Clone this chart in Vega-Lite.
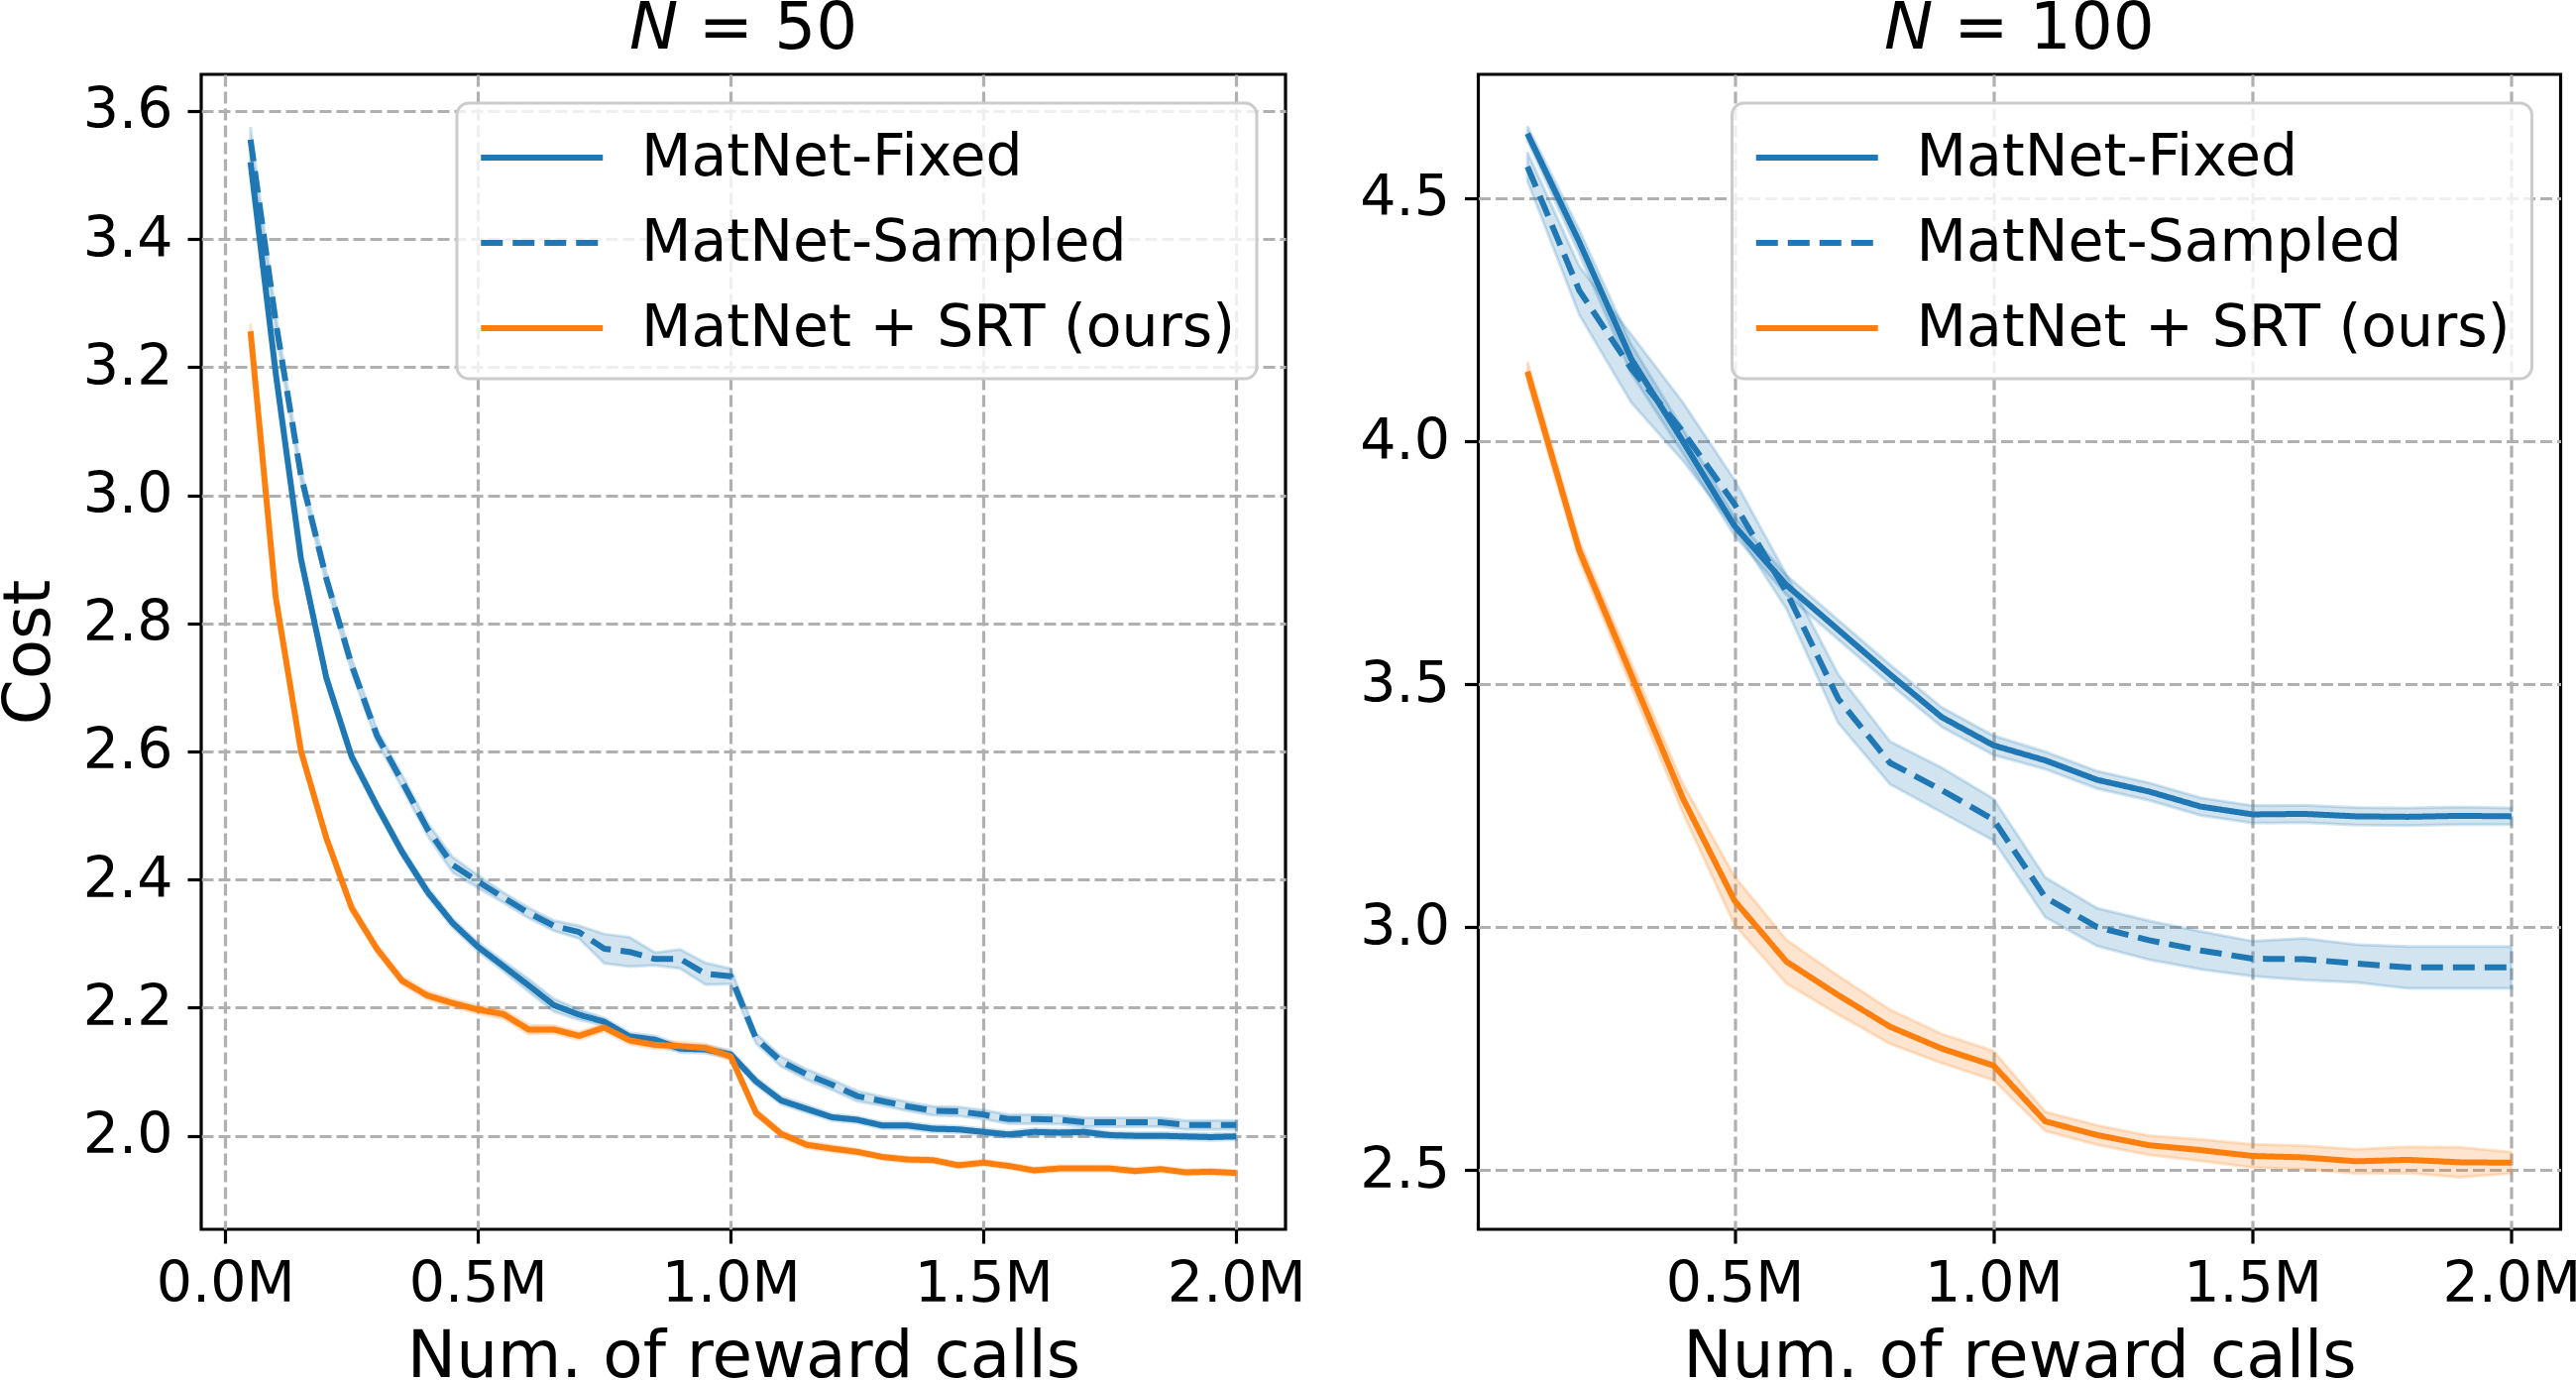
{
  "$schema": "https://vega.github.io/schema/vega-lite/v6.json",
  "background": "white",
  "padding": {"left": -6, "top": -6, "right": 0, "bottom": 0},
  "spacing": 194.5,
  "bounds": "flush",
  "config": {
    "font": "DejaVu Sans",
    "view": {"stroke": "black", "strokeWidth": 3.2},
    "axis": {
      "domain": false,
      "grid": true,
      "gridColor": "#b0b0b0",
      "gridDash": [12, 5],
      "gridWidth": 3.2,
      "gridOpacity": 1,
      "tickColor": "black",
      "tickSize": 14,
      "tickWidth": 3.2,
      "labelFont": "DejaVu Sans",
      "labelFontSize": 57,
      "labelColor": "black",
      "titleFont": "DejaVu Sans",
      "titleFontSize": 66,
      "titleFontWeight": "normal",
      "titleColor": "black",
      "labelOverlap": false,
      "labelFlush": false
    },
    "axisX": {"labelPadding": 13, "titlePadding": 13},
    "axisY": {"labelPadding": 15, "titlePadding": 20},
    "legend": {
      "orient": "top-right",
      "offset": 29,
      "symbolStrokeWidth": 6,
      "labelFont": "DejaVu Sans",
      "labelFontSize": 58.5,
      "labelColor": "black",
      "labelLimit": 2000,
      "rowPadding": 22,
      "padding": 21,
      "strokeColor": "#cccccc",
      "strokeWidth": 3,
      "cornerRadius": 12,
      "fillColor": "rgba(255,255,255,0.8)"
    },
    "title": {"font": "DejaVu Sans", "fontSize": 66, "fontWeight": "normal", "color": "black", "offset": 12, "baseline": "alphabetic"}
  },
  "datasets": {
    "n50": [
      {"x":0.05,"s":"MatNet-Fixed","y":3.52,"lo":3.508,"hi":3.532},
      {"x":0.10,"s":"MatNet-Fixed","y":3.19,"lo":3.18,"hi":3.20},
      {"x":0.15,"s":"MatNet-Fixed","y":2.90,"lo":2.892,"hi":2.908},
      {"x":0.20,"s":"MatNet-Fixed","y":2.715,"lo":2.707,"hi":2.723},
      {"x":0.25,"s":"MatNet-Fixed","y":2.592,"lo":2.584,"hi":2.600},
      {"x":0.30,"s":"MatNet-Fixed","y":2.515,"lo":2.508,"hi":2.522},
      {"x":0.35,"s":"MatNet-Fixed","y":2.443,"lo":2.436,"hi":2.450},
      {"x":0.40,"s":"MatNet-Fixed","y":2.381,"lo":2.374,"hi":2.388},
      {"x":0.45,"s":"MatNet-Fixed","y":2.332,"lo":2.325,"hi":2.339},
      {"x":0.50,"s":"MatNet-Fixed","y":2.295,"lo":2.288,"hi":2.302},
      {"x":0.55,"s":"MatNet-Fixed","y":2.265,"lo":2.257,"hi":2.273},
      {"x":0.60,"s":"MatNet-Fixed","y":2.235,"lo":2.225,"hi":2.245},
      {"x":0.65,"s":"MatNet-Fixed","y":2.204,"lo":2.194,"hi":2.214},
      {"x":0.70,"s":"MatNet-Fixed","y":2.189,"lo":2.181,"hi":2.197},
      {"x":0.75,"s":"MatNet-Fixed","y":2.178,"lo":2.172,"hi":2.184},
      {"x":0.80,"s":"MatNet-Fixed","y":2.155,"lo":2.149,"hi":2.161},
      {"x":0.85,"s":"MatNet-Fixed","y":2.150,"lo":2.144,"hi":2.156},
      {"x":0.90,"s":"MatNet-Fixed","y":2.136,"lo":2.130,"hi":2.142},
      {"x":0.95,"s":"MatNet-Fixed","y":2.135,"lo":2.129,"hi":2.141},
      {"x":1.00,"s":"MatNet-Fixed","y":2.127,"lo":2.121,"hi":2.133},
      {"x":1.05,"s":"MatNet-Fixed","y":2.085,"lo":2.079,"hi":2.091},
      {"x":1.10,"s":"MatNet-Fixed","y":2.055,"lo":2.049,"hi":2.061},
      {"x":1.15,"s":"MatNet-Fixed","y":2.042,"lo":2.036,"hi":2.048},
      {"x":1.20,"s":"MatNet-Fixed","y":2.029,"lo":2.024,"hi":2.034},
      {"x":1.25,"s":"MatNet-Fixed","y":2.025,"lo":2.020,"hi":2.030},
      {"x":1.30,"s":"MatNet-Fixed","y":2.016,"lo":2.011,"hi":2.021},
      {"x":1.35,"s":"MatNet-Fixed","y":2.016,"lo":2.011,"hi":2.021},
      {"x":1.40,"s":"MatNet-Fixed","y":2.011,"lo":2.006,"hi":2.016},
      {"x":1.45,"s":"MatNet-Fixed","y":2.010,"lo":2.005,"hi":2.015},
      {"x":1.50,"s":"MatNet-Fixed","y":2.006,"lo":2.001,"hi":2.011},
      {"x":1.55,"s":"MatNet-Fixed","y":2.002,"lo":1.997,"hi":2.007},
      {"x":1.60,"s":"MatNet-Fixed","y":2.006,"lo":2.001,"hi":2.011},
      {"x":1.65,"s":"MatNet-Fixed","y":2.005,"lo":2.000,"hi":2.010},
      {"x":1.70,"s":"MatNet-Fixed","y":2.006,"lo":2.001,"hi":2.011},
      {"x":1.75,"s":"MatNet-Fixed","y":2.001,"lo":1.996,"hi":2.006},
      {"x":1.80,"s":"MatNet-Fixed","y":2.000,"lo":1.995,"hi":2.005},
      {"x":1.85,"s":"MatNet-Fixed","y":2.000,"lo":1.995,"hi":2.005},
      {"x":1.90,"s":"MatNet-Fixed","y":1.999,"lo":1.994,"hi":2.004},
      {"x":1.95,"s":"MatNet-Fixed","y":1.998,"lo":1.993,"hi":2.003},
      {"x":2.00,"s":"MatNet-Fixed","y":1.999,"lo":1.994,"hi":2.004},
      {"x":0.05,"s":"MatNet-Sampled","y":3.555,"lo":3.535,"hi":3.575},
      {"x":0.10,"s":"MatNet-Sampled","y":3.27,"lo":3.258,"hi":3.282},
      {"x":0.15,"s":"MatNet-Sampled","y":3.03,"lo":3.020,"hi":3.040},
      {"x":0.20,"s":"MatNet-Sampled","y":2.87,"lo":2.860,"hi":2.880},
      {"x":0.25,"s":"MatNet-Sampled","y":2.735,"lo":2.725,"hi":2.745},
      {"x":0.30,"s":"MatNet-Sampled","y":2.625,"lo":2.615,"hi":2.635},
      {"x":0.35,"s":"MatNet-Sampled","y":2.553,"lo":2.543,"hi":2.563},
      {"x":0.40,"s":"MatNet-Sampled","y":2.479,"lo":2.469,"hi":2.489},
      {"x":0.45,"s":"MatNet-Sampled","y":2.423,"lo":2.411,"hi":2.435},
      {"x":0.50,"s":"MatNet-Sampled","y":2.397,"lo":2.387,"hi":2.407},
      {"x":0.55,"s":"MatNet-Sampled","y":2.372,"lo":2.364,"hi":2.380},
      {"x":0.60,"s":"MatNet-Sampled","y":2.348,"lo":2.340,"hi":2.356},
      {"x":0.65,"s":"MatNet-Sampled","y":2.328,"lo":2.320,"hi":2.336},
      {"x":0.70,"s":"MatNet-Sampled","y":2.318,"lo":2.308,"hi":2.328},
      {"x":0.75,"s":"MatNet-Sampled","y":2.292,"lo":2.269,"hi":2.315},
      {"x":0.80,"s":"MatNet-Sampled","y":2.287,"lo":2.264,"hi":2.310},
      {"x":0.85,"s":"MatNet-Sampled","y":2.276,"lo":2.266,"hi":2.286},
      {"x":0.90,"s":"MatNet-Sampled","y":2.276,"lo":2.261,"hi":2.291},
      {"x":0.95,"s":"MatNet-Sampled","y":2.253,"lo":2.236,"hi":2.270},
      {"x":1.00,"s":"MatNet-Sampled","y":2.249,"lo":2.237,"hi":2.261},
      {"x":1.05,"s":"MatNet-Sampled","y":2.152,"lo":2.144,"hi":2.160},
      {"x":1.10,"s":"MatNet-Sampled","y":2.116,"lo":2.108,"hi":2.124},
      {"x":1.15,"s":"MatNet-Sampled","y":2.096,"lo":2.088,"hi":2.104},
      {"x":1.20,"s":"MatNet-Sampled","y":2.080,"lo":2.072,"hi":2.088},
      {"x":1.25,"s":"MatNet-Sampled","y":2.062,"lo":2.054,"hi":2.070},
      {"x":1.30,"s":"MatNet-Sampled","y":2.054,"lo":2.047,"hi":2.061},
      {"x":1.35,"s":"MatNet-Sampled","y":2.046,"lo":2.039,"hi":2.053},
      {"x":1.40,"s":"MatNet-Sampled","y":2.039,"lo":2.032,"hi":2.046},
      {"x":1.45,"s":"MatNet-Sampled","y":2.038,"lo":2.031,"hi":2.045},
      {"x":1.50,"s":"MatNet-Sampled","y":2.033,"lo":2.026,"hi":2.040},
      {"x":1.55,"s":"MatNet-Sampled","y":2.026,"lo":2.019,"hi":2.033},
      {"x":1.60,"s":"MatNet-Sampled","y":2.026,"lo":2.019,"hi":2.033},
      {"x":1.65,"s":"MatNet-Sampled","y":2.025,"lo":2.018,"hi":2.032},
      {"x":1.70,"s":"MatNet-Sampled","y":2.021,"lo":2.014,"hi":2.028},
      {"x":1.75,"s":"MatNet-Sampled","y":2.021,"lo":2.014,"hi":2.028},
      {"x":1.80,"s":"MatNet-Sampled","y":2.021,"lo":2.014,"hi":2.028},
      {"x":1.85,"s":"MatNet-Sampled","y":2.021,"lo":2.014,"hi":2.028},
      {"x":1.90,"s":"MatNet-Sampled","y":2.017,"lo":2.010,"hi":2.024},
      {"x":1.95,"s":"MatNet-Sampled","y":2.017,"lo":2.010,"hi":2.024},
      {"x":2.00,"s":"MatNet-Sampled","y":2.017,"lo":2.010,"hi":2.024},
      {"x":0.05,"s":"MatNet + SRT (ours)","y":3.256,"lo":3.244,"hi":3.268},
      {"x":0.10,"s":"MatNet + SRT (ours)","y":2.84,"lo":2.832,"hi":2.848},
      {"x":0.15,"s":"MatNet + SRT (ours)","y":2.60,"lo":2.592,"hi":2.608},
      {"x":0.20,"s":"MatNet + SRT (ours)","y":2.465,"lo":2.458,"hi":2.472},
      {"x":0.25,"s":"MatNet + SRT (ours)","y":2.356,"lo":2.349,"hi":2.363},
      {"x":0.30,"s":"MatNet + SRT (ours)","y":2.292,"lo":2.286,"hi":2.298},
      {"x":0.35,"s":"MatNet + SRT (ours)","y":2.242,"lo":2.236,"hi":2.248},
      {"x":0.40,"s":"MatNet + SRT (ours)","y":2.219,"lo":2.213,"hi":2.225},
      {"x":0.45,"s":"MatNet + SRT (ours)","y":2.207,"lo":2.201,"hi":2.213},
      {"x":0.50,"s":"MatNet + SRT (ours)","y":2.197,"lo":2.191,"hi":2.203},
      {"x":0.55,"s":"MatNet + SRT (ours)","y":2.190,"lo":2.183,"hi":2.197},
      {"x":0.60,"s":"MatNet + SRT (ours)","y":2.166,"lo":2.159,"hi":2.173},
      {"x":0.65,"s":"MatNet + SRT (ours)","y":2.166,"lo":2.160,"hi":2.172},
      {"x":0.70,"s":"MatNet + SRT (ours)","y":2.156,"lo":2.150,"hi":2.162},
      {"x":0.75,"s":"MatNet + SRT (ours)","y":2.169,"lo":2.163,"hi":2.175},
      {"x":0.80,"s":"MatNet + SRT (ours)","y":2.149,"lo":2.143,"hi":2.155},
      {"x":0.85,"s":"MatNet + SRT (ours)","y":2.142,"lo":2.136,"hi":2.148},
      {"x":0.90,"s":"MatNet + SRT (ours)","y":2.140,"lo":2.134,"hi":2.146},
      {"x":0.95,"s":"MatNet + SRT (ours)","y":2.137,"lo":2.131,"hi":2.143},
      {"x":1.00,"s":"MatNet + SRT (ours)","y":2.124,"lo":2.118,"hi":2.130},
      {"x":1.05,"s":"MatNet + SRT (ours)","y":2.036,"lo":2.031,"hi":2.041},
      {"x":1.10,"s":"MatNet + SRT (ours)","y":2.003,"lo":1.998,"hi":2.008},
      {"x":1.15,"s":"MatNet + SRT (ours)","y":1.986,"lo":1.981,"hi":1.991},
      {"x":1.20,"s":"MatNet + SRT (ours)","y":1.980,"lo":1.975,"hi":1.985},
      {"x":1.25,"s":"MatNet + SRT (ours)","y":1.975,"lo":1.971,"hi":1.979},
      {"x":1.30,"s":"MatNet + SRT (ours)","y":1.967,"lo":1.963,"hi":1.971},
      {"x":1.35,"s":"MatNet + SRT (ours)","y":1.963,"lo":1.959,"hi":1.967},
      {"x":1.40,"s":"MatNet + SRT (ours)","y":1.962,"lo":1.958,"hi":1.966},
      {"x":1.45,"s":"MatNet + SRT (ours)","y":1.954,"lo":1.950,"hi":1.958},
      {"x":1.50,"s":"MatNet + SRT (ours)","y":1.958,"lo":1.954,"hi":1.962},
      {"x":1.55,"s":"MatNet + SRT (ours)","y":1.953,"lo":1.949,"hi":1.957},
      {"x":1.60,"s":"MatNet + SRT (ours)","y":1.946,"lo":1.942,"hi":1.950},
      {"x":1.65,"s":"MatNet + SRT (ours)","y":1.949,"lo":1.945,"hi":1.953},
      {"x":1.70,"s":"MatNet + SRT (ours)","y":1.949,"lo":1.945,"hi":1.953},
      {"x":1.75,"s":"MatNet + SRT (ours)","y":1.949,"lo":1.945,"hi":1.953},
      {"x":1.80,"s":"MatNet + SRT (ours)","y":1.945,"lo":1.941,"hi":1.949},
      {"x":1.85,"s":"MatNet + SRT (ours)","y":1.948,"lo":1.944,"hi":1.952},
      {"x":1.90,"s":"MatNet + SRT (ours)","y":1.943,"lo":1.939,"hi":1.947},
      {"x":1.95,"s":"MatNet + SRT (ours)","y":1.944,"lo":1.940,"hi":1.948},
      {"x":2.00,"s":"MatNet + SRT (ours)","y":1.942,"lo":1.938,"hi":1.946}
    ],
    "n100": [
      {"x":0.1,"s":"MatNet-Fixed","y":4.633,"lo":4.618,"hi":4.648},
      {"x":0.2,"s":"MatNet-Fixed","y":4.41,"lo":4.385,"hi":4.435},
      {"x":0.3,"s":"MatNet-Fixed","y":4.17,"lo":4.140,"hi":4.200},
      {"x":0.4,"s":"MatNet-Fixed","y":4.0,"lo":3.975,"hi":4.025},
      {"x":0.5,"s":"MatNet-Fixed","y":3.825,"lo":3.805,"hi":3.845},
      {"x":0.6,"s":"MatNet-Fixed","y":3.704,"lo":3.684,"hi":3.724},
      {"x":0.7,"s":"MatNet-Fixed","y":3.612,"lo":3.592,"hi":3.632},
      {"x":0.8,"s":"MatNet-Fixed","y":3.52,"lo":3.500,"hi":3.540},
      {"x":0.9,"s":"MatNet-Fixed","y":3.432,"lo":3.412,"hi":3.452},
      {"x":1.0,"s":"MatNet-Fixed","y":3.374,"lo":3.354,"hi":3.394},
      {"x":1.1,"s":"MatNet-Fixed","y":3.343,"lo":3.325,"hi":3.361},
      {"x":1.2,"s":"MatNet-Fixed","y":3.303,"lo":3.285,"hi":3.321},
      {"x":1.3,"s":"MatNet-Fixed","y":3.279,"lo":3.261,"hi":3.297},
      {"x":1.4,"s":"MatNet-Fixed","y":3.248,"lo":3.230,"hi":3.266},
      {"x":1.5,"s":"MatNet-Fixed","y":3.232,"lo":3.214,"hi":3.250},
      {"x":1.6,"s":"MatNet-Fixed","y":3.233,"lo":3.215,"hi":3.251},
      {"x":1.7,"s":"MatNet-Fixed","y":3.228,"lo":3.210,"hi":3.246},
      {"x":1.8,"s":"MatNet-Fixed","y":3.227,"lo":3.209,"hi":3.245},
      {"x":1.9,"s":"MatNet-Fixed","y":3.229,"lo":3.211,"hi":3.247},
      {"x":2.0,"s":"MatNet-Fixed","y":3.228,"lo":3.211,"hi":3.245},
      {"x":0.1,"s":"MatNet-Sampled","y":4.565,"lo":4.535,"hi":4.595},
      {"x":0.2,"s":"MatNet-Sampled","y":4.31,"lo":4.260,"hi":4.360},
      {"x":0.3,"s":"MatNet-Sampled","y":4.15,"lo":4.080,"hi":4.220},
      {"x":0.4,"s":"MatNet-Sampled","y":4.02,"lo":3.960,"hi":4.080},
      {"x":0.5,"s":"MatNet-Sampled","y":3.87,"lo":3.820,"hi":3.920},
      {"x":0.6,"s":"MatNet-Sampled","y":3.69,"lo":3.655,"hi":3.725},
      {"x":0.7,"s":"MatNet-Sampled","y":3.47,"lo":3.420,"hi":3.520},
      {"x":0.8,"s":"MatNet-Sampled","y":3.338,"lo":3.294,"hi":3.382},
      {"x":0.9,"s":"MatNet-Sampled","y":3.282,"lo":3.236,"hi":3.328},
      {"x":1.0,"s":"MatNet-Sampled","y":3.221,"lo":3.178,"hi":3.264},
      {"x":1.1,"s":"MatNet-Sampled","y":3.061,"lo":3.020,"hi":3.102},
      {"x":1.2,"s":"MatNet-Sampled","y":3.000,"lo":2.961,"hi":3.039},
      {"x":1.3,"s":"MatNet-Sampled","y":2.973,"lo":2.933,"hi":3.013},
      {"x":1.4,"s":"MatNet-Sampled","y":2.952,"lo":2.913,"hi":2.991},
      {"x":1.5,"s":"MatNet-Sampled","y":2.935,"lo":2.899,"hi":2.971},
      {"x":1.6,"s":"MatNet-Sampled","y":2.934,"lo":2.891,"hi":2.977},
      {"x":1.7,"s":"MatNet-Sampled","y":2.925,"lo":2.886,"hi":2.964},
      {"x":1.8,"s":"MatNet-Sampled","y":2.917,"lo":2.874,"hi":2.960},
      {"x":1.9,"s":"MatNet-Sampled","y":2.917,"lo":2.874,"hi":2.960},
      {"x":2.0,"s":"MatNet-Sampled","y":2.917,"lo":2.874,"hi":2.960},
      {"x":0.1,"s":"MatNet + SRT (ours)","y":4.143,"lo":4.123,"hi":4.163},
      {"x":0.2,"s":"MatNet + SRT (ours)","y":3.775,"lo":3.755,"hi":3.795},
      {"x":0.3,"s":"MatNet + SRT (ours)","y":3.52,"lo":3.495,"hi":3.545},
      {"x":0.4,"s":"MatNet + SRT (ours)","y":3.265,"lo":3.235,"hi":3.295},
      {"x":0.5,"s":"MatNet + SRT (ours)","y":3.054,"lo":3.004,"hi":3.104},
      {"x":0.6,"s":"MatNet + SRT (ours)","y":2.929,"lo":2.884,"hi":2.974},
      {"x":0.7,"s":"MatNet + SRT (ours)","y":2.86,"lo":2.820,"hi":2.900},
      {"x":0.8,"s":"MatNet + SRT (ours)","y":2.795,"lo":2.760,"hi":2.830},
      {"x":0.9,"s":"MatNet + SRT (ours)","y":2.75,"lo":2.720,"hi":2.780},
      {"x":1.0,"s":"MatNet + SRT (ours)","y":2.715,"lo":2.685,"hi":2.745},
      {"x":1.1,"s":"MatNet + SRT (ours)","y":2.60,"lo":2.580,"hi":2.620},
      {"x":1.2,"s":"MatNet + SRT (ours)","y":2.572,"lo":2.552,"hi":2.592},
      {"x":1.3,"s":"MatNet + SRT (ours)","y":2.551,"lo":2.531,"hi":2.571},
      {"x":1.4,"s":"MatNet + SRT (ours)","y":2.541,"lo":2.519,"hi":2.563},
      {"x":1.5,"s":"MatNet + SRT (ours)","y":2.529,"lo":2.505,"hi":2.553},
      {"x":1.6,"s":"MatNet + SRT (ours)","y":2.526,"lo":2.502,"hi":2.550},
      {"x":1.7,"s":"MatNet + SRT (ours)","y":2.518,"lo":2.493,"hi":2.543},
      {"x":1.8,"s":"MatNet + SRT (ours)","y":2.521,"lo":2.494,"hi":2.548},
      {"x":1.9,"s":"MatNet + SRT (ours)","y":2.516,"lo":2.485,"hi":2.547},
      {"x":2.0,"s":"MatNet + SRT (ours)","y":2.515,"lo":2.493,"hi":2.537}
    ]
  },
  "resolve": {
    "scale": {"x": "independent", "y": "independent", "color": "independent", "strokeDash": "independent", "fill": "independent", "stroke": "independent"},
    "legend": {"color": "independent", "strokeDash": "independent", "fill": "independent", "stroke": "independent"}
  },
  "hconcat": [
    {
      "width": 1094,
      "height": 1165,
      "title": {"text": "𝘕 = 50"},
      "data": {"name": "n50"},
      "encoding": {
        "x": {"field": "x", "type": "quantitative",
              "scale": {"domain": [-0.0475, 2.0975], "nice": false, "zero": false},
              "axis": {"values": [0, 0.5, 1, 1.5, 2], "labelExpr": "format(datum.value, '.1f') + 'M'", "title": "Num. of reward calls"}}
      },
      "layer": [
        {
          "mark": {"type": "area", "fillOpacity": 0.2, "strokeOpacity": 0.2, "strokeWidth": 3},
          "encoding": {
            "y": {"field": "lo", "type": "quantitative", "scale": {"domain": [1.854, 3.657], "nice": false, "zero": false},
                  "axis": {"values": [2.0, 2.2, 2.4, 2.6, 2.8, 3.0, 3.2, 3.4, 3.6], "format": ".1f", "title": "Cost"}},
            "y2": {"field": "hi"},
            "fill": {"field": "s", "type": "nominal", "scale": {"domain": ["MatNet + SRT (ours)", "MatNet-Fixed", "MatNet-Sampled"], "range": ["#ff7f0e", "#1f77b4", "#1f77b4"]}, "legend": null},
            "stroke": {"field": "s", "type": "nominal", "scale": {"domain": ["MatNet + SRT (ours)", "MatNet-Fixed", "MatNet-Sampled"], "range": ["#ff7f0e", "#1f77b4", "#1f77b4"]}, "legend": null}
          }
        },
        {
          "mark": {"type": "line", "strokeWidth": 6, "strokeJoin": "round"},
          "encoding": {
            "y": {"field": "y", "type": "quantitative", "scale": {"domain": [1.854, 3.657], "nice": false, "zero": false},
                  "axis": {"values": [2.0, 2.2, 2.4, 2.6, 2.8, 3.0, 3.2, 3.4, 3.6], "format": ".1f", "title": "Cost"}},
            "color": {"field": "s", "type": "nominal",
                      "scale": {"domain": ["MatNet-Fixed", "MatNet-Sampled", "MatNet + SRT (ours)"], "range": ["#1f77b4", "#1f77b4", "#ff7f0e"]},
                      "legend": {"title": null, "symbolType": "M-1,0H3", "symbolSize": 3782, "labelOffset": 97}},
            "strokeDash": {"field": "s", "type": "nominal",
                           "scale": {"domain": ["MatNet-Fixed", "MatNet-Sampled", "MatNet + SRT (ours)"], "range": [[1, 0], [22, 10], [1, 0]]},
                           "legend": {"title": null, "symbolType": "M-1,0H3", "symbolSize": 3782, "labelOffset": 97}}
          }
        }
      ]
    },
    {
      "width": 1092,
      "height": 1165,
      "title": {"text": "𝘕 = 100"},
      "data": {"name": "n100"},
      "encoding": {
        "x": {"field": "x", "type": "quantitative",
              "scale": {"domain": [0.005, 2.095], "nice": false, "zero": false},
              "axis": {"values": [0.5, 1, 1.5, 2], "labelExpr": "format(datum.value, '.1f') + 'M'", "title": "Num. of reward calls"}}
      },
      "layer": [
        {
          "mark": {"type": "area", "fillOpacity": 0.2, "strokeOpacity": 0.2, "strokeWidth": 3},
          "encoding": {
            "y": {"field": "lo", "type": "quantitative", "scale": {"domain": [2.378, 4.755], "nice": false, "zero": false},
                  "axis": {"values": [2.5, 3.0, 3.5, 4.0, 4.5], "format": ".1f", "title": null}},
            "y2": {"field": "hi"},
            "fill": {"field": "s", "type": "nominal", "scale": {"domain": ["MatNet + SRT (ours)", "MatNet-Fixed", "MatNet-Sampled"], "range": ["#ff7f0e", "#1f77b4", "#1f77b4"]}, "legend": null},
            "stroke": {"field": "s", "type": "nominal", "scale": {"domain": ["MatNet + SRT (ours)", "MatNet-Fixed", "MatNet-Sampled"], "range": ["#ff7f0e", "#1f77b4", "#1f77b4"]}, "legend": null}
          }
        },
        {
          "mark": {"type": "line", "strokeWidth": 6, "strokeJoin": "round"},
          "encoding": {
            "y": {"field": "y", "type": "quantitative", "scale": {"domain": [2.378, 4.755], "nice": false, "zero": false},
                  "axis": {"values": [2.5, 3.0, 3.5, 4.0, 4.5], "format": ".1f", "title": null}},
            "color": {"field": "s", "type": "nominal",
                      "scale": {"domain": ["MatNet-Fixed", "MatNet-Sampled", "MatNet + SRT (ours)"], "range": ["#1f77b4", "#1f77b4", "#ff7f0e"]},
                      "legend": {"title": null, "symbolType": "M-1,0H3", "symbolSize": 3782, "labelOffset": 97}},
            "strokeDash": {"field": "s", "type": "nominal",
                           "scale": {"domain": ["MatNet-Fixed", "MatNet-Sampled", "MatNet + SRT (ours)"], "range": [[1, 0], [22, 10], [1, 0]]},
                           "legend": {"title": null, "symbolType": "M-1,0H3", "symbolSize": 3782, "labelOffset": 97}}
          }
        }
      ]
    }
  ]
}
